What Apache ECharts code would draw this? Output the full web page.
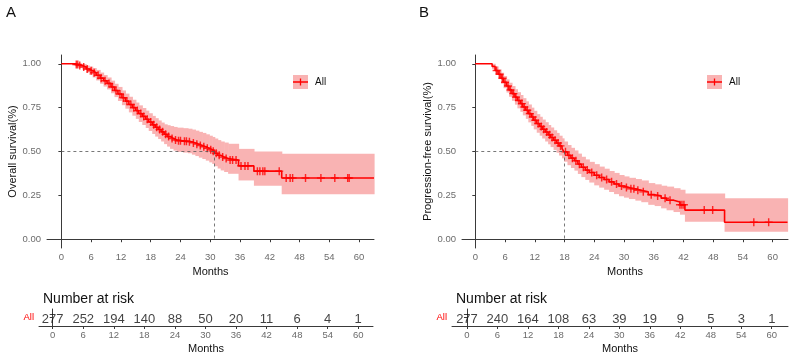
<!DOCTYPE html>
<html>
<head>
<meta charset="utf-8">
<style>html,body{margin:0;padding:0;background:#fff}#c{width:790px;height:355px}</style>
<script src="https://cdn.jsdelivr.net/npm/echarts@6/dist/echarts.min.js"></script>
</head>
<body>
<div id="c"></div>
<script>
// ---------- data ----------
const xTicks = [0, 6, 12, 18, 24, 30, 36, 42, 48, 54, 60];
const yTicks = [0, 0.25, 0.5, 0.75, 1];
const riskTimes = [0, 6, 12, 18, 24, 30, 36, 42, 48, 54, 60];
const riskA = [277, 252, 194, 140, 88, 50, 20, 11, 6, 4, 1];
const riskB = [277, 240, 164, 108, 63, 39, 19, 9, 5, 3, 1];

// Panel A: overall survival
const timeA = [0, 2.8, 3.5, 4.2, 5.0, 5.6, 6.3, 7.0, 7.8, 8.5, 9.2, 10.0, 10.7, 11.4, 12.2, 12.9, 13.6, 14.3, 15.0, 15.6, 16.3, 17.0, 17.6, 18.3, 18.9, 19.5, 20.1, 20.7, 21.3, 21.9, 22.6, 23.3, 24.5, 25.5, 26.3, 27.0, 27.7, 28.4, 29.1, 29.8, 30.4, 30.9, 31.5, 32.1, 32.8, 33.6, 35.7, 38.8, 44.4, 63];
const survA = [1.000, 0.996, 0.990, 0.982, 0.970, 0.960, 0.949, 0.935, 0.918, 0.903, 0.888, 0.868, 0.848, 0.828, 0.806, 0.787, 0.768, 0.750, 0.733, 0.716, 0.700, 0.684, 0.668, 0.652, 0.638, 0.625, 0.612, 0.598, 0.585, 0.574, 0.566, 0.561, 0.558, 0.555, 0.549, 0.542, 0.534, 0.527, 0.519, 0.510, 0.502, 0.490, 0.478, 0.468, 0.460, 0.451, 0.418, 0.388, 0.349, 0.349];
const upperA = [1.000, 1.000, 1.000, 0.998, 0.990, 0.984, 0.976, 0.965, 0.950, 0.936, 0.922, 0.904, 0.886, 0.868, 0.848, 0.830, 0.812, 0.795, 0.779, 0.763, 0.748, 0.733, 0.718, 0.703, 0.690, 0.677, 0.665, 0.655, 0.650, 0.645, 0.640, 0.636, 0.633, 0.630, 0.625, 0.619, 0.612, 0.606, 0.598, 0.590, 0.583, 0.574, 0.565, 0.557, 0.551, 0.544, 0.515, 0.500, 0.487, 0.487];
const lowerA = [1.000, 0.988, 0.978, 0.967, 0.950, 0.937, 0.922, 0.905, 0.886, 0.870, 0.854, 0.832, 0.810, 0.788, 0.764, 0.744, 0.723, 0.704, 0.686, 0.668, 0.651, 0.634, 0.617, 0.600, 0.585, 0.571, 0.557, 0.542, 0.528, 0.515, 0.505, 0.498, 0.494, 0.490, 0.482, 0.474, 0.465, 0.457, 0.448, 0.438, 0.429, 0.416, 0.403, 0.392, 0.383, 0.373, 0.335, 0.305, 0.256, 0.256];
const censorA = [3.0, 3.3, 3.7, 4.5, 5.2, 6.0, 6.6, 7.4, 8.0, 8.8, 9.6, 10.3, 11.0, 11.8, 12.5, 13.2, 14.0, 14.6, 15.3, 16.0, 16.6, 17.3, 18.0, 18.6, 19.2, 19.8, 20.4, 21.0, 21.6, 22.3, 23.0, 23.6, 24.0, 24.8, 25.2, 25.8, 26.6, 27.3, 28.0, 28.7, 29.4, 30.1, 30.6, 31.2, 31.8, 32.5, 33.2, 34.0, 34.5, 35.2, 36.2, 37.0, 37.6, 39.5, 40.0, 40.6, 41.0, 43.9, 45.3, 46.1, 46.6, 49.2, 52.3, 55.1, 57.7, 58.0];

// Panel B: progression-free survival
const timeB = [0, 3.4, 4.0, 4.6, 5.2, 5.7, 6.3, 6.8, 7.4, 8.0, 8.5, 9.1, 9.6, 10.2, 10.7, 11.3, 11.8, 12.4, 13.0, 13.5, 14.1, 14.7, 15.2, 15.8, 16.4, 16.9, 17.5, 17.9, 18.6, 19.3, 20.0, 20.7, 21.4, 22.2, 23.0, 24.0, 25.0, 26.0, 27.0, 28.0, 29.0, 30.0, 31.0, 32.3, 33.5, 34.9, 36.2, 37.5, 38.6, 40.0, 41.3, 42.3, 50.3, 63];
const survB = [1.0, 0.985, 0.962, 0.940, 0.917, 0.895, 0.873, 0.851, 0.830, 0.810, 0.791, 0.773, 0.754, 0.735, 0.716, 0.697, 0.678, 0.659, 0.643, 0.627, 0.611, 0.595, 0.580, 0.564, 0.548, 0.532, 0.517, 0.498, 0.478, 0.462, 0.447, 0.428, 0.410, 0.394, 0.380, 0.365, 0.352, 0.340, 0.327, 0.315, 0.303, 0.295, 0.287, 0.279, 0.270, 0.254, 0.247, 0.234, 0.222, 0.212, 0.196, 0.166, 0.097, 0.097];
const upperB = [1.0, 1.0, 0.985, 0.968, 0.949, 0.930, 0.911, 0.892, 0.873, 0.855, 0.838, 0.822, 0.804, 0.786, 0.768, 0.750, 0.732, 0.713, 0.698, 0.682, 0.667, 0.651, 0.637, 0.621, 0.606, 0.590, 0.575, 0.557, 0.537, 0.521, 0.506, 0.488, 0.470, 0.455, 0.441, 0.428, 0.414, 0.402, 0.389, 0.378, 0.366, 0.358, 0.350, 0.343, 0.335, 0.320, 0.313, 0.305, 0.300, 0.291, 0.282, 0.261, 0.233, 0.233];
const lowerB = [1.0, 0.970, 0.940, 0.913, 0.886, 0.861, 0.836, 0.812, 0.789, 0.767, 0.746, 0.726, 0.706, 0.686, 0.666, 0.646, 0.626, 0.607, 0.590, 0.574, 0.557, 0.541, 0.525, 0.509, 0.493, 0.477, 0.461, 0.442, 0.422, 0.406, 0.391, 0.372, 0.354, 0.338, 0.323, 0.307, 0.294, 0.282, 0.269, 0.257, 0.245, 0.237, 0.229, 0.220, 0.211, 0.196, 0.189, 0.176, 0.165, 0.155, 0.140, 0.100, 0.043, 0.043];
const censorB = [4.3, 4.9, 5.5, 6.0, 6.6, 7.1, 7.7, 8.2, 8.8, 9.4, 9.9, 10.5, 11.0, 11.6, 12.1, 12.7, 13.3, 13.8, 14.4, 15.0, 15.5, 16.1, 16.7, 17.2, 18.2, 18.9, 19.6, 20.3, 21.0, 21.8, 22.6, 23.5, 24.5, 25.5, 26.5, 27.5, 28.5, 29.5, 30.5, 31.4, 32.0, 32.8, 33.9, 35.5, 36.8, 38.3, 39.3, 41.3, 41.7, 42.1, 46.2, 47.9, 56.2, 59.2];

// ---------- helpers ----------
const RED = '#FF0000';
const BAND = '#F9B3B3';
const FONT = 'Liberation Sans, Arial, sans-serif';
const AX = '#3a3a3a';
const TICKLAB = '#6b6b6b';

function survAt(times, surv, t) {
  let v = surv[0];
  for (let i = 0; i < times.length; i++) { if (times[i] <= t) v = surv[i]; }
  return v;
}
function median(times, surv) {
  for (let i = 0; i < times.length; i++) if (surv[i] <= 0.5) return times[i];
  return null;
}
const plusPath = 'path://M-0.9,-5H0.9V-0.9H5V0.9H0.9V5H-0.9V0.9H-5V-0.9H-0.9Z';

function bandItem(params, api) {
  const p1 = api.coord([api.value(0), api.value(3)]);
  const p2 = api.coord([api.value(1), api.value(2)]);
  return {
    type: 'rect',
    shape: { x: p1[0], y: p1[1], width: p2[0] - p1[0] + 0.6, height: p2[1] - p1[1] },
    style: { fill: BAND }
  };
}

const grids = [], xAxes = [], yAxes = [], series = [], graphics = [];

function addPanel(p) {
  const gi = grids.length;
  grids.push({ left: p.left, top: 55, width: p.width, height: 193, containLabel: false });
  xAxes.push({
    type: 'value', gridIndex: gi, min: p.xmin, max: p.xmax,
    name: 'Months', nameLocation: 'middle', nameGap: 18,
    nameTextStyle: { fontFamily: FONT, fontSize: 11, color: '#111' },
    axisLine: { show: true, lineStyle: { color: AX, width: 1 } },
    axisTick: { show: true, length: 3, customValues: xTicks, lineStyle: { color: AX } },
    axisLabel: { customValues: xTicks, margin: 4, fontFamily: FONT, fontSize: 9.5, color: TICKLAB },
    splitLine: { show: false }
  });
  yAxes.push({
    type: 'value', gridIndex: gi, min: -0.05, max: 1.05,
    name: p.yname, nameLocation: 'middle', nameGap: 27,
    nameTextStyle: { fontFamily: FONT, fontSize: 11, color: '#111' },
    axisLine: { show: true, lineStyle: { color: AX, width: 1 } },
    axisTick: { show: true, length: 3, customValues: yTicks, lineStyle: { color: AX } },
    axisLabel: { customValues: yTicks, margin: 6, fontFamily: FONT, fontSize: 9.5, color: TICKLAB,
      formatter: v => v.toFixed(2) },
    splitLine: { show: false }
  });
  const bandData = [];
  for (let i = 0; i < p.t.length - 1; i++) bandData.push([p.t[i], p.t[i + 1], p.lo[i], p.up[i]]);
  series.push({
    type: 'custom', xAxisIndex: gi, yAxisIndex: gi, silent: true, z: 1,
    renderItem: bandItem, encode: { x: [0, 1], y: [2, 3] },
    data: bandData
  });
  const med = median(p.t, p.s);
  series.push({
    type: 'line', xAxisIndex: gi, yAxisIndex: gi, step: 'end', symbol: 'none', z: 3,
    lineStyle: { color: RED, width: 1.6 },
    data: p.t.map((t, i) => [t, p.s[i]]),
    markLine: {
      silent: true, symbol: 'none', label: { show: false },
      lineStyle: { color: '#555', type: [3, 3], width: 0.8 },
      data: [
        [{ coord: [0, 0.5] }, { coord: [med, 0.5] }],
        [{ coord: [med, 0.5] }, { coord: [med, 0] }]
      ]
    }
  });
  series.push({
    type: 'scatter', xAxisIndex: gi, yAxisIndex: gi, z: 4,
    symbol: plusPath, symbolSize: 8, itemStyle: { color: RED },
    data: p.c.map(t => [t, survAt(p.t, p.s, t)])
  });
  // legend key
  const lx = p.legendX, ly = 75;
  graphics.push({ type: 'rect', z: 10, shape: { x: lx, y: ly, width: 15, height: 14 }, style: { fill: BAND } });
  graphics.push({ type: 'line', z: 11, shape: { x1: lx, y1: ly + 7, x2: lx + 15, y2: ly + 7 }, style: { stroke: RED, lineWidth: 1.5 } });
  graphics.push({ type: 'line', z: 11, shape: { x1: lx + 7.5, y1: ly + 3.5, x2: lx + 7.5, y2: ly + 10.5 }, style: { stroke: RED, lineWidth: 1.3 } });
  graphics.push({ type: 'text', z: 11, x: lx + 22, y: ly + 7, style: { text: 'All', font: '10px ' + FONT, fill: '#111', verticalAlign: 'middle' } });
}

function addRisk(p) {
  const gi = grids.length;
  grids.push({ left: p.left, top: 309, width: p.width, height: 17, containLabel: false });
  xAxes.push({
    type: 'value', gridIndex: gi, min: p.xmin, max: p.xmax,
    name: 'Months', nameLocation: 'middle', nameGap: 17,
    nameTextStyle: { fontFamily: FONT, fontSize: 11, color: '#111' },
    axisLine: { show: true, lineStyle: { color: AX, width: 1 } },
    axisTick: { show: true, length: 3, customValues: riskTimes, lineStyle: { color: AX } },
    axisLabel: { customValues: riskTimes, margin: 4, fontFamily: FONT, fontSize: 9.5, color: TICKLAB },
    splitLine: { show: false }
  });
  yAxes.push({
    type: 'category', gridIndex: gi, data: ['All'],
    axisLine: { show: true, lineStyle: { color: AX, width: 1 } },
    axisTick: { show: true, length: 3, alignWithLabel: true, lineStyle: { color: AX } },
    axisLabel: { margin: 5, fontFamily: FONT, fontSize: 9.5, color: RED },
    splitLine: { show: false }
  });
  series.push({
    type: 'scatter', xAxisIndex: gi, yAxisIndex: gi, symbolSize: 1,
    itemStyle: { color: 'rgba(0,0,0,0)' },
    label: { show: true, position: 'inside', offset: [0, 1.5], fontFamily: FONT, fontSize: 13, color: '#111',
      formatter: prm => String(prm.value[2]) },
    data: riskTimes.map((t, i) => [t, 'All', p.n[i]])
  });
}

addPanel({ left: 47, width: 327, xmin: -2.9, xmax: 63.0, yname: 'Overall survival(%)',
  t: timeA, s: survA, up: upperA, lo: lowerA, c: censorA, legendX: 293 });
addPanel({ left: 462, width: 326, xmin: -2.68, xmax: 63.1, yname: 'Progression-free survival(%)',
  t: timeB, s: survB, up: upperB, lo: lowerB, c: censorB, legendX: 707 });
addRisk({ left: 39, width: 334, xmin: -2.69, xmax: 62.9, n: riskA });
addRisk({ left: 452, width: 336, xmin: -2.95, xmax: 63.2, n: riskB });

const chart = echarts.init(document.getElementById('c'), null, { renderer: 'canvas' });
chart.setOption({
  animation: false,
  backgroundColor: '#fff',
  title: [
    { text: 'A', left: 1, top: 0, textStyle: { fontFamily: FONT, fontSize: 15, fontWeight: 'normal', color: '#111' } },
    { text: 'B', left: 414, top: 0, textStyle: { fontFamily: FONT, fontSize: 15, fontWeight: 'normal', color: '#111' } },
    { text: 'Number at risk', left: 38, top: 287, textStyle: { fontFamily: FONT, fontSize: 14, fontWeight: 'normal', color: '#111' } },
    { text: 'Number at risk', left: 451, top: 287, textStyle: { fontFamily: FONT, fontSize: 14, fontWeight: 'normal', color: '#111' } }
  ],
  grid: grids, xAxis: xAxes, yAxis: yAxes, series: series, graphic: graphics
});
</script>
</body>
</html>
